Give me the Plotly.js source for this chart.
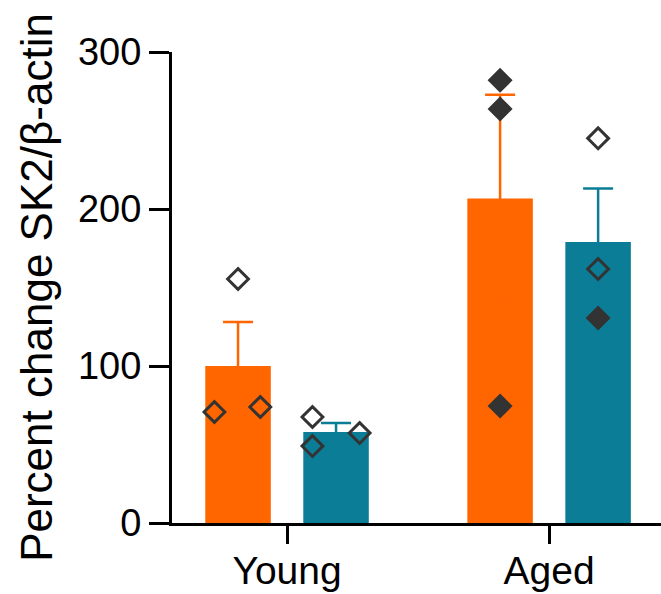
<!DOCTYPE html>
<html>
<head>
<meta charset="utf-8">
<script src="https://cdn.plot.ly/plotly-3.0.1.min.js"></script>
<style>html,body{margin:0;padding:0;background:#fff;}</style>
</head>
<body>
<div id="chart" style="width:661px;height:594px;"></div>
<script>
// Categories and tick labels
const categories = ["Young", "Aged"];
const groups = ["Orange group", "Teal group"];

// Bar means (percent change SK2/β-actin)
const orangeMeans = [100, 206.7];
const tealMeans = [57.9, 179];

// Upper error bars (SEM)
const orangeErr = [28, 66];
const tealErr = [5.8, 34];

// Individual points per category
const orangePoints = [[155.4, 70.7, 73.9], [282, 263.7, 74.5]];
const tealPoints = [[67.5, 49, 57.3], [245, 161.8, 130.6]];
// Filled (true) or open (false) marker per point
const orangeFilled = [[false, false, false], [true, true, true]];
const tealFilled = [[false, false, false], [false, false, true]];
// Horizontal jitter of the points within a bar
const orangeJitter = [[0, -0.09, 0.085], [0, 0, 0]];
const tealJitter = [[-0.09, -0.09, 0.09], [0, 0, 0]];

const ORANGE = "#FF6600";
const TEAL = "#0B7D97";
const OFFSET = 0.187;
const catIdx = categories.map((c, i) => i);

function barTrace(means, err, off, color, name) {
  return {
    type: "bar",
    x: catIdx.map(i => i + off),
    y: means,
    width: 0.25,
    marker: {color: color, line: {width: 0}},
    // symmetric: the lower half falls inside the bar in the bar's own colour
    error_y: {type: "data", symmetric: true, array: err,
              color: color, thickness: 2.5, width: 15},
    name: name,
    showlegend: false,
    hoverinfo: "skip"
  };
}

function pointTraces(points, filled, jitter, off) {
  const xs = [], ys = [], syms = [];
  points.forEach((arr, i) => {
    arr.forEach((v, j) => {
      xs.push(i + off + jitter[i][j]);
      ys.push(v);
      syms.push(filled[i][j] ? "diamond" : "diamond-open");
    });
  });
  return {
    type: "scatter",
    mode: "markers",
    x: xs, y: ys,
    marker: {symbol: syms, size: 16, color: "#333333", line: {color: "#333333", width: 3}},
    showlegend: false,
    hoverinfo: "skip",
    cliponaxis: false
  };
}

const data = [
  barTrace(orangeMeans, orangeErr, -OFFSET, ORANGE, groups[0]),
  barTrace(tealMeans, tealErr, OFFSET, TEAL, groups[1]),
  pointTraces(orangePoints, orangeFilled, orangeJitter, -OFFSET),
  pointTraces(tealPoints, tealFilled, tealJitter, OFFSET)
];

const layout = {
  width: 661,
  height: 594,
  margin: {l: 172, r: 0, t: 52, b: 71},
  paper_bgcolor: "#ffffff",
  plot_bgcolor: "#ffffff",
  barmode: "overlay",
  font: {family: "Liberation Sans, Arial, sans-serif", color: "#000"},
  xaxis: {
    range: [-0.439, 1.427],
    tickvals: catIdx,
    ticktext: categories,
    showline: true, linecolor: "#000", linewidth: 3,
    ticks: "outside", ticklen: 18, tickwidth: 3, tickcolor: "#000",
    tickfont: {size: 39, color: "#000"},
    ticklabelstandoff: -7,
    showgrid: false, zeroline: false, fixedrange: true
  },
  yaxis: {
    range: [0, 300],
    tickvals: [0, 100, 200, 300],
    showline: true, linecolor: "#000", linewidth: 3,
    ticks: "outside", ticklen: 20, tickwidth: 3, tickcolor: "#000",
    tickfont: {size: 38, color: "#000"},
    showgrid: false, zeroline: false, fixedrange: true,
    title: {text: "Percent change SK2/β-actin", font: {size: 44, color: "#000"}, standoff: 12}
  }
};

Plotly.newPlot("chart", data, layout, {displayModeBar: false, staticPlot: true});
</script>
</body>
</html>
